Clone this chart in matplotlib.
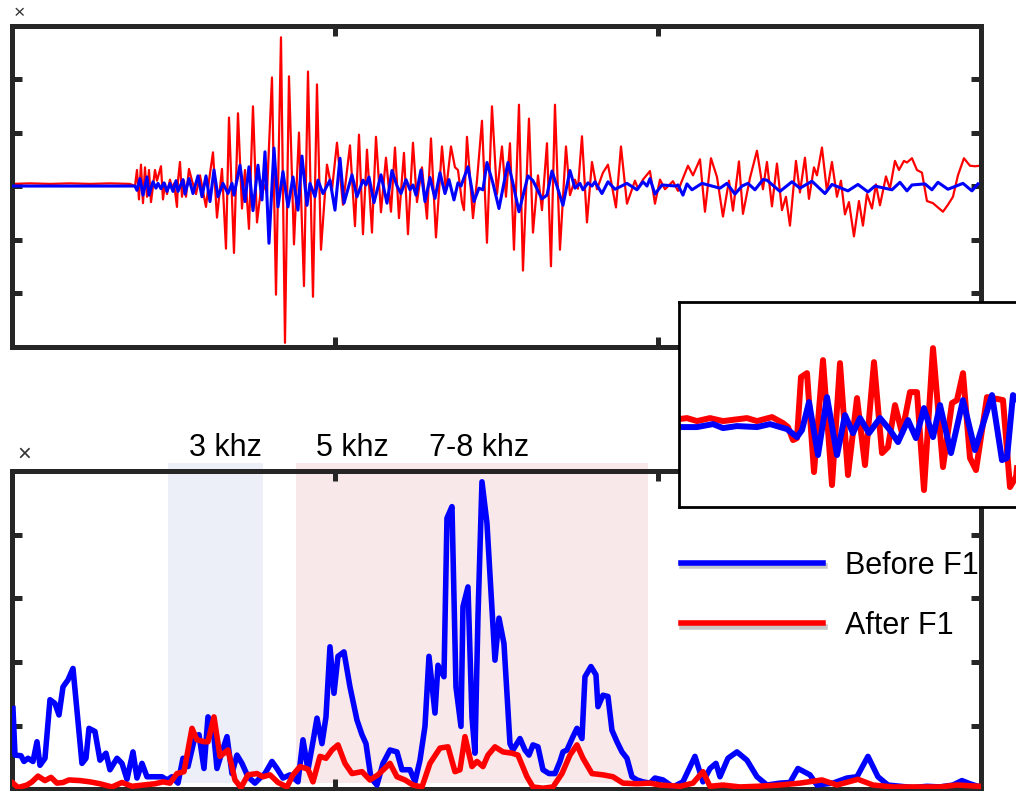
import numpy as np
import matplotlib.pyplot as plt
import matplotlib.patheffects as pe
from matplotlib.lines import Line2D

plt.rcParams['font.family'] = ['Liberation Sans', 'DejaVu Sans']

# ---------------------------------------------------------
# Waveform (sample index, amplitude) before / after filter F1
# ---------------------------------------------------------
wave_after = [
    (0, 0.04), (18, 0.05), (38, 0.04), (58, 0.05), (78, 0.04), (98, 0.05), (118, 0.04), (123, 0.0),
    (125, 0.30), (127, -0.25), (129, 0.40), (131, -0.32), (133, 0.35), (135, -0.2), (137, 0.3),
    (139, -0.3), (141, 0.0), (143, 0.3), (145, 0.1), (149, 0.37), (151, -0.25), (153, 0.05),
    (155, -0.15), (158, 0.12), (160, -0.05), (162, 0.05), (165, -0.39), (166, 0.1), (168, 0.45),
    (170, -0.2), (172, 0.1), (174, -0.2), (177, 0.32), (180, 0.1), (184, -0.15), (188, 0.2),
    (191, -0.1), (194, -0.39), (197, 0.1), (201, 0.63), (205, -0.59), (210, 0.32), (214, -1.17),
    (217, 1.28), (222, -1.25), (226, 1.36), (230, -0.42), (233, 0.3), (237, -0.8), (241, 1.49),
    (245, -0.68), (250, 0.1), (255, -0.13), (260, 2.03), (264, -2.03), (269, 2.78), (273, -2.93),
    (277, 2.05), (282, -1.09), (287, 1.0), (292, -1.87), (296, 2.14), (301, -2.07), (305, 1.9),
    (309, -1.19), (315, 0.4), (320, -0.07), (325, 0.81), (331, -0.35), (338, 0.76), (343, -0.75),
    (347, 0.96), (351, -0.9), (355, 0.68), (360, -0.87), (364, 0.92), (369, -0.49), (374, 0.53),
    (379, -0.48), (383, 0.72), (387, -0.6), (392, 0.62), (396, -0.9), (401, 0.81), (405, -0.3),
    (410, 0.35), (415, -0.61), (419, 0.89), (424, -0.96), (430, 0.74), (434, -0.1), (439, 0.74),
    (443, 0.35), (446, 0.3), (450, -0.3), (452, -0.45), (455, 0.92), (461, -0.6), (465, 0.1),
    (470, 1.22), (475, -1.06), (480, 1.49), (485, -0.15), (490, 0.74), (494, -0.2), (498, 0.8),
    (502, -1.19), (507, 1.52), (511, -1.58), (517, 1.26), (521, -0.87), (526, 0.2), (530, -0.45),
    (535, 0.8), (539, -1.5), (543, 1.52), (548, -1.19), (554, 0.74), (558, -0.17), (563, 0.12),
    (566, -0.05), (570, 0.93), (575, -0.68), (580, 0.45), (585, -0.06), (591, 0.25), (596, 0.4),
    (604, -0.4), (609, 0.74), (615, -0.33), (623, 0.1), (626, -0.05), (631, 0.12), (638, 0.28),
    (643, -0.33), (648, 0.12), (653, -0.06), (661, 0.09), (666, -0.09), (676, 0.38), (681, 0.2),
    (688, 0.5), (693, -0.48), (699, 0.52), (705, 0.17), (711, -0.57), (717, 0.1), (721, -0.46),
    (727, 0.46), (731, -0.52), (738, 0.15), (745, 0.66), (751, -0.06), (755, 0.45), (760, -0.38),
    (765, 0.42), (770, -0.45), (774, -0.2), (778, -0.74), (784, 0.47), (788, -0.12), (793, 0.53),
    (797, -0.24), (802, 0.35), (805, 0.2), (810, 0.72), (815, -0.1), (820, 0.45), (825, -0.2),
    (829, 0.1), (833, -0.53), (837, -0.3), (842, -0.94), (847, -0.28), (851, -0.74), (855, -0.15),
    (860, -0.42), (864, 0.03), (868, -0.36), (874, 0.18), (878, -0.05), (883, 0.47), (887, 0.3),
    (892, 0.47), (895, 0.44), (900, 0.52), (905, 0.3), (910, 0.25), (915, -0.28), (921, -0.32),
    (931, -0.48), (936, -0.35), (941, -0.2), (946, 0.2), (952, 0.52), (958, 0.38), (963, 0.37),
    (968, 0.38),
]

wave_before = [
    (0, 0.0), (123, 0.0), (125, -0.08), (128, 0.14), (131, -0.17), (135, 0.17), (137, -0.17),
    (141, 0.08), (144, -0.04), (146, 0.05), (149, -0.05), (152, 0.06), (155, -0.1), (158, 0.05),
    (161, -0.1), (164, 0.1), (166, -0.1), (171, 0.12), (173, -0.15), (177, 0.14), (181, -0.14),
    (186, 0.19), (190, -0.2), (194, 0.19), (198, -0.29), (202, 0.3), (206, -0.2), (211, 0.05),
    (216, -0.14), (220, 0.05), (222, -0.17), (228, 0.39), (233, -0.29), (237, 0.36), (241, -0.46),
    (246, 0.39), (250, -0.26), (253, 0.64), (257, -1.07), (262, 0.71), (266, -0.39), (271, 0.27),
    (276, -0.39), (281, 0.17), (286, -0.45), (290, 0.56), (295, -0.36), (298, 0.05), (303, -0.2),
    (306, 0.11), (311, -0.14), (318, 0.11), (323, -0.45), (328, 0.52), (332, -0.32), (340, 0.21),
    (345, -0.2), (351, 0.11), (354, 0.02), (357, 0.17), (362, -0.31), (369, 0.21), (375, -0.32),
    (380, 0.29), (385, 0.0), (389, -0.14), (394, 0.12), (398, -0.07), (401, 0.02), (404, -0.17),
    (409, 0.3), (413, -0.29), (418, 0.16), (423, -0.23), (428, 0.25), (433, -0.14), (437, 0.12),
    (442, -0.26), (446, 0.06), (449, 0.0), (456, 0.36), (462, -0.29), (467, -0.04), (471, -0.07),
    (475, 0.44), (481, 0.05), (487, -0.42), (496, 0.44), (501, 0.05), (507, -0.48), (516, 0.19),
    (521, 0.1), (530, -0.24), (535, -0.17), (540, 0.28), (545, 0.0), (551, -0.36), (558, 0.29),
    (563, -0.04), (568, 0.05), (571, -0.07), (576, 0.06), (580, 0.0), (583, 0.08), (590, -0.14),
    (596, 0.08), (603, -0.06), (615, 0.05), (625, -0.07), (631, 0.08), (635, 0.0), (638, 0.14),
    (643, -0.15), (650, 0.02), (664, 0.0), (666, 0.02), (671, -0.17), (675, 0.04), (680, -0.07),
    (690, 0.05), (708, -0.04), (715, 0.05), (723, -0.15), (730, 0.0), (736, 0.05), (743, -0.07),
    (751, 0.12), (755, 0.11), (768, -0.1), (780, 0.08), (788, -0.04), (800, 0.09), (813, -0.14),
    (820, 0.03), (836, -0.09), (846, 0.03), (856, -0.11), (863, 0.0), (880, -0.07), (888, 0.07),
    (895, -0.09), (900, 0.02), (913, 0.04), (920, -0.07), (926, 0.07), (936, -0.06), (951, 0.05),
    (960, -0.09), (966, 0.04),
]

# zoomed view of the onset
onset_after = [
    (0, 0.08), (8, 0.09), (18, 0.06), (31, 0.09), (44, 0.06), (68, 0.09), (78, 0.06), (93, 0.1),
    (104, 0.04), (109, 0.0), (114, -0.13), (118, -0.11), (122, 0.5), (128, 0.54), (135, -0.45),
    (144, 0.67), (153, -0.58), (161, 0.64), (169, -0.48), (178, 0.29), (186, -0.38), (195, 0.65),
    (203, -0.26), (209, -0.2), (216, 0.22), (223, -0.06), (231, 0.35), (238, 0.35), (245, -0.63),
    (254, 0.79), (264, -0.4), (273, 0.24), (278, 0.27), (284, 0.54), (291, -0.31), (297, -0.43),
    (308, 0.3), (319, 0.28), (324, 0.27), (331, -0.6), (337, -0.5), (345, 0.2),
]
onset_before = [
    (0, 0.0), (18, 0.0), (34, 0.03), (44, -0.01), (58, 0.01), (78, 0.0), (91, 0.03), (108, -0.02),
    (118, -0.1), (123, -0.03), (130, 0.25), (139, -0.28), (148, 0.3), (158, -0.28), (166, 0.12),
    (174, -0.06), (181, 0.09), (190, -0.06), (201, 0.09), (211, -0.03), (219, -0.15), (229, 0.07),
    (237, -0.11), (245, 0.19), (254, -0.1), (261, 0.22), (272, -0.26), (284, 0.27), (296, -0.23),
    (313, 0.32), (323, -0.33), (328, -0.31), (334, 0.32), (345, 0.2),
]

# ---------------------------------------------------------
# Spectrum (frequency bin, magnitude)
# ---------------------------------------------------------
spec_before = [
    (1, 1.27), (3, 0.54), (9, 0.53), (12, 0.44), (16, 0.49), (21, 0.44), (25, 0.75), (28, 0.38),
    (33, 0.49), (38, 1.41), (43, 1.35), (47, 1.17), (51, 1.61), (56, 1.72), (61, 1.9), (70, 0.41),
    (74, 0.49), (77, 0.96), (83, 0.91), (88, 0.46), (94, 0.57), (98, 0.31), (105, 0.49), (110, 0.41),
    (115, 0.16), (121, 0.59), (125, 0.18), (130, 0.41), (135, 0.2), (141, 0.2), (150, 0.2),
    (155, 0.15), (160, 0.2), (166, 0.1), (171, 0.49), (176, 0.36), (183, 0.83), (187, 0.86),
    (192, 0.33), (196, 1.14), (201, 0.99), (205, 0.33), (210, 0.59), (215, 0.83), (220, 0.25),
    (225, 0.54), (230, 0.41), (236, 0.2), (243, 0.1), (248, 0.18), (253, 0.25), (260, 0.44),
    (265, 0.33), (271, 0.18), (278, 0.23), (286, 0.12), (291, 0.78), (296, 0.31), (301, 0.75),
    (305, 1.12), (310, 0.72), (314, 1.14), (318, 2.24), (322, 1.51), (326, 2.09), (332, 2.16),
    (338, 1.61), (345, 1.09), (350, 0.86), (354, 0.72), (359, 0.18), (365, 0.07), (371, 0.41),
    (378, 0.62), (385, 0.59), (390, 0.31), (395, 0.31), (398, 0.31), (403, 0.12), (408, 0.46),
    (413, 0.99), (417, 2.09), (423, 1.2), (426, 1.95), (432, 1.77), (435, 4.26), (440, 4.44),
    (444, 1.61), (449, 0.99), (451, 2.87), (456, 3.18), (460, 1.14), (463, 0.57), (466, 2.71),
    (470, 4.83), (475, 4.18), (483, 2.03), (487, 2.69), (492, 2.29), (498, 0.72), (501, 0.62),
    (508, 0.8), (513, 0.62), (517, 0.54), (521, 0.7), (526, 0.67), (531, 0.31), (537, 0.25),
    (543, 0.25), (548, 0.44), (551, 0.59), (555, 0.62), (561, 0.83), (565, 0.96), (570, 0.8),
    (573, 1.77), (579, 1.93), (584, 1.8), (586, 1.3), (591, 1.48), (596, 1.46), (600, 0.93),
    (605, 0.75), (610, 0.59), (615, 0.49), (620, 0.2), (625, 0.15), (631, 0.12), (638, 0.1),
    (643, 0.18), (651, 0.15), (661, 0.04), (671, 0.12), (683, 0.52), (691, 0.12), (698, 0.33),
    (704, 0.41), (708, 0.2), (716, 0.49), (725, 0.59), (735, 0.46), (745, 0.2), (755, 0.07),
    (768, 0.1), (778, 0.11), (786, 0.33), (798, 0.23), (805, 0.07), (821, 0.1), (835, 0.18),
    (845, 0.2), (856, 0.52), (866, 0.2), (876, 0.07), (888, 0.05), (901, 0.03), (915, 0.05),
    (928, 0.04), (941, 0.07), (950, 0.14), (958, 0.09), (968, 0.04),
]

spec_after = [
    (1, 0.1), (6, 0.03), (15, 0.07), (20, 0.12), (26, 0.21), (33, 0.14), (39, 0.19), (45, 0.1),
    (51, 0.11), (57, 0.15), (68, 0.14), (78, 0.12), (88, 0.09), (100, 0.04), (110, 0.11),
    (120, 0.05), (131, 0.07), (143, 0.09), (151, 0.12), (158, 0.1), (165, 0.25), (172, 0.28),
    (180, 0.96), (185, 0.78), (192, 0.75), (196, 0.75), (202, 1.14), (208, 0.52), (216, 0.62),
    (223, 0.15), (229, 0.03), (236, 0.23), (245, 0.25), (251, 0.2), (258, 0.23), (266, 0.11),
    (275, 0.04), (281, 0.23), (288, 0.36), (296, 0.32), (301, 0.12), (308, 0.52), (314, 0.49),
    (320, 0.62), (326, 0.7), (333, 0.41), (340, 0.25), (350, 0.28), (358, 0.15), (366, 0.23),
    (378, 0.41), (385, 0.2), (393, 0.15), (401, 0.07), (410, 0.04), (418, 0.41), (428, 0.65),
    (436, 0.67), (443, 0.28), (448, 0.31), (453, 0.83), (460, 0.36), (465, 0.44), (471, 0.36),
    (476, 0.54), (483, 0.67), (491, 0.59), (500, 0.57), (506, 0.54), (515, 0.2), (521, 0.04),
    (531, 0.02), (541, 0.04), (550, 0.25), (558, 0.54), (565, 0.7), (571, 0.49), (580, 0.25),
    (591, 0.23), (601, 0.2), (611, 0.1), (625, 0.09), (638, 0.1), (648, 0.07), (668, 0.05),
    (681, 0.1), (691, 0.28), (698, 0.05), (711, 0.07), (728, 0.04), (745, 0.05), (768, 0.07),
    (788, 0.1), (810, 0.15), (825, 0.07), (846, 0.16), (861, 0.07), (881, 0.04), (901, 0.04),
    (928, 0.04), (945, 0.07), (968, 0.05),
]

# highlighted bands (bin ranges) and their labels
band_3k = (156, 251)
band_5to8k = (284, 636)
band_labels = ['3 khz', '5 khz', '7-8 khz']
band_label_bins = [213, 340, 467]

legend_labels = ['Before F1', 'After F1']

SPINE = '#262626'
BLUE = '#0000ff'
RED = '#ff0000'


def style_box(ax, xticks, yticks):
    for s in ax.spines.values():
        s.set_linewidth(3.6)
        s.set_color(SPINE)
    ax.set_xticks(xticks)
    ax.set_yticks(yticks)
    ax.tick_params(direction='in', length=7, width=3.6, color=SPINE,
                   top=True, right=True, labelbottom=False, labelleft=False)


fig = plt.figure(figsize=(10.16, 7.91), dpi=100)

# --- top: waveform ---
ax1 = fig.add_axes([0.0118, 0.5619, 0.9537, 0.4058])
n, v = np.array(wave_after).T
ax1.plot(n, v, color=RED, lw=1.6, zorder=2)
n, v = np.array(wave_before).T
ax1.plot(n, v, color=BLUE, lw=2.2, zorder=3)
ax1.set_xlim(0, 969)
ax1.set_ylim(-3, 3)
style_box(ax1, [323, 646], [-2, -1, 0, 1, 2])
fig.text(0.0192, 0.983, '\u00d7', fontsize=14, color='#333333', ha='center', va='center')

# --- bottom: spectrum ---
ax2 = fig.add_axes([0.0118, 0.0019, 0.9537, 0.4027])
for (lo, hi), col in [(band_3k, '#eceff8'), (band_5to8k, '#f9e8e9')]:
    ax2.axvspan(lo, hi, ymin=0.02, ymax=1.025, color=col, lw=0, zorder=0, clip_on=False)
f, m = np.array(spec_before).T
ax2.plot(f, m, color=BLUE, lw=4, zorder=3)
f, m = np.array(spec_after).T
ax2.plot(f, m, color=RED, lw=4, zorder=4)
ax2.set_xlim(0, 969)
ax2.set_ylim(0, 5)
style_box(ax2, [323, 646], [1, 2, 3, 4])
for lab, b in zip(band_labels, band_label_bins):
    ax2.text(b, 1.047, lab, transform=ax2.get_xaxis_transform(), fontsize=22,
             ha='center', va='baseline')
fig.text(0.0236, 0.425, '\u00d7', fontsize=17, color='#333333', ha='center', va='center')

shadow = [pe.SimpleLineShadow(offset=(1, -2.5), shadow_color='k', alpha=0.22), pe.Normal()]
handles = [Line2D([], [], color=BLUE, lw=4, path_effects=shadow),
           Line2D([], [], color=RED, lw=4, path_effects=shadow)]
fig.legend(handles, legend_labels, loc='upper left', bbox_to_anchor=(0.6703, 0.304),
           frameon=False, fontsize=22, borderpad=0, borderaxespad=0,
           handlelength=4.66, handletextpad=0.72, labelspacing=1.0)

# --- inset: zoom on the onset ---
ax3 = fig.add_axes([0.6683, 0.359, 0.375, 0.259])
n, v = np.array(onset_after).T
ax3.plot(n, v, color=RED, lw=4.3)
n, v = np.array(onset_before).T
ax3.plot(n, v, color=BLUE, lw=4.3)
ax3.set_xlim(0, 381)
ax3.set_ylim(-0.8, 1.25)
ax3.set_xticks([])
ax3.set_yticks([])
for s in ax3.spines.values():
    s.set_linewidth(2)
    s.set_color('black')

fig.savefig('out.png', dpi=100)
